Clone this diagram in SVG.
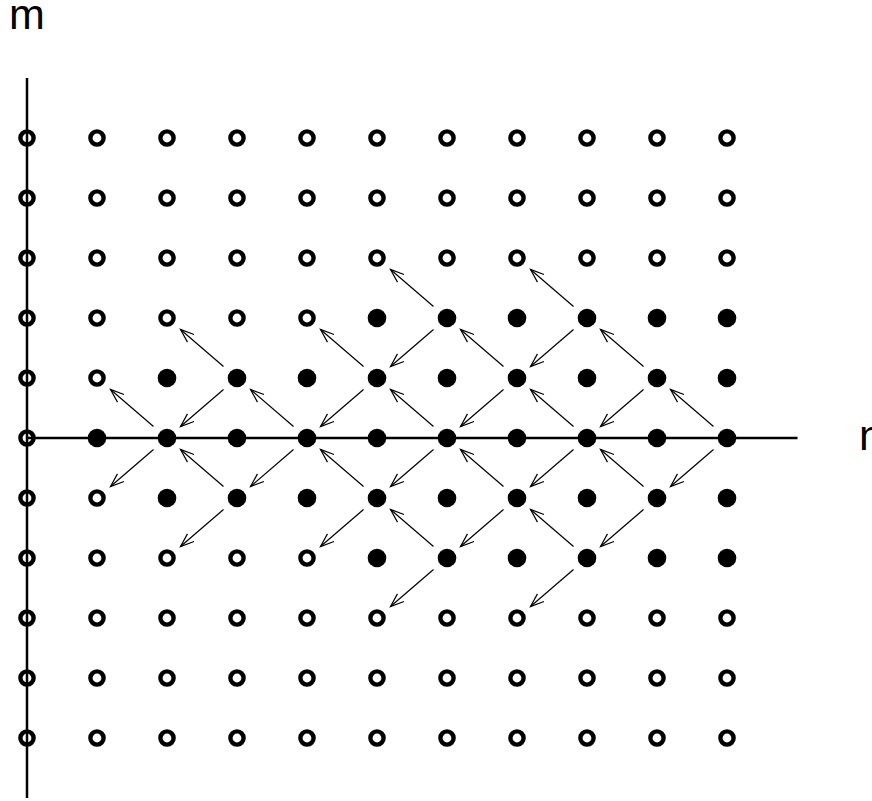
<svg xmlns="http://www.w3.org/2000/svg" width="872" height="801" viewBox="0 0 872 801">
<style>
.o{fill:none;stroke:#000;stroke-width:4.4}
.f{fill:#000}
.ax{stroke:#000;stroke-width:2.5;fill:none}
.ar{stroke:#000;stroke-width:1.2;fill:none;marker-end:url(#ah)}
.lb{font-family:"Liberation Sans",Arial,sans-serif;font-size:43px;fill:#000}
</style>
<defs>
<marker id="ah" markerUnits="userSpaceOnUse" markerWidth="20" markerHeight="20" refX="0" refY="0" orient="auto" overflow="visible">
<path d="M-13.5,-5 L0,0 L-13.5,5" fill="none" stroke="#000" stroke-width="1.2"/>
</marker>
</defs>
<rect width="872" height="801" fill="#fff"/>
<g id="nodes">
<!-- m=5 y=138 -->
<g id="n0_5"><circle class="o" cx="27" cy="138" r="6.6"/></g>
<g id="n1_5"><circle class="o" cx="97" cy="138" r="6.6"/></g>
<g id="n2_5"><circle class="o" cx="167" cy="138" r="6.6"/></g>
<g id="n3_5"><circle class="o" cx="237" cy="138" r="6.6"/></g>
<g id="n4_5"><circle class="o" cx="307" cy="138" r="6.6"/></g>
<g id="n5_5"><circle class="o" cx="377" cy="138" r="6.6"/></g>
<g id="n6_5"><circle class="o" cx="447" cy="138" r="6.6"/></g>
<g id="n7_5"><circle class="o" cx="517" cy="138" r="6.6"/></g>
<g id="n8_5"><circle class="o" cx="587" cy="138" r="6.6"/></g>
<g id="n9_5"><circle class="o" cx="657" cy="138" r="6.6"/></g>
<g id="n10_5"><circle class="o" cx="727" cy="138" r="6.6"/></g>
<!-- m=4 y=198 -->
<g id="n0_4"><circle class="o" cx="27" cy="198" r="6.6"/></g>
<g id="n1_4"><circle class="o" cx="97" cy="198" r="6.6"/></g>
<g id="n2_4"><circle class="o" cx="167" cy="198" r="6.6"/></g>
<g id="n3_4"><circle class="o" cx="237" cy="198" r="6.6"/></g>
<g id="n4_4"><circle class="o" cx="307" cy="198" r="6.6"/></g>
<g id="n5_4"><circle class="o" cx="377" cy="198" r="6.6"/></g>
<g id="n6_4"><circle class="o" cx="447" cy="198" r="6.6"/></g>
<g id="n7_4"><circle class="o" cx="517" cy="198" r="6.6"/></g>
<g id="n8_4"><circle class="o" cx="587" cy="198" r="6.6"/></g>
<g id="n9_4"><circle class="o" cx="657" cy="198" r="6.6"/></g>
<g id="n10_4"><circle class="o" cx="727" cy="198" r="6.6"/></g>
<!-- m=3 y=258 -->
<g id="n0_3"><circle class="o" cx="27" cy="258" r="6.6"/></g>
<g id="n1_3"><circle class="o" cx="97" cy="258" r="6.6"/></g>
<g id="n2_3"><circle class="o" cx="167" cy="258" r="6.6"/></g>
<g id="n3_3"><circle class="o" cx="237" cy="258" r="6.6"/></g>
<g id="n4_3"><circle class="o" cx="307" cy="258" r="6.6"/></g>
<g id="n5_3"><circle class="o" cx="377" cy="258" r="6.6"/></g>
<g id="n6_3"><circle class="o" cx="447" cy="258" r="6.6"/></g>
<g id="n7_3"><circle class="o" cx="517" cy="258" r="6.6"/></g>
<g id="n8_3"><circle class="o" cx="587" cy="258" r="6.6"/></g>
<g id="n9_3"><circle class="o" cx="657" cy="258" r="6.6"/></g>
<g id="n10_3"><circle class="o" cx="727" cy="258" r="6.6"/></g>
<!-- m=2 y=318 -->
<g id="n0_2"><circle class="o" cx="27" cy="318" r="6.6"/></g>
<g id="n1_2"><circle class="o" cx="97" cy="318" r="6.6"/></g>
<g id="n2_2"><circle class="o" cx="167" cy="318" r="6.6"/></g>
<g id="n3_2"><circle class="o" cx="237" cy="318" r="6.6"/></g>
<g id="n4_2"><circle class="o" cx="307" cy="318" r="6.6"/></g>
<g id="n5_2"><circle class="f" cx="377" cy="318" r="9.3"/></g>
<g id="n6_2"><circle class="f" cx="447" cy="318" r="9.3"/></g>
<g id="n7_2"><circle class="f" cx="517" cy="318" r="9.3"/></g>
<g id="n8_2"><circle class="f" cx="587" cy="318" r="9.3"/></g>
<g id="n9_2"><circle class="f" cx="657" cy="318" r="9.3"/></g>
<g id="n10_2"><circle class="f" cx="727" cy="318" r="9.3"/></g>
<!-- m=1 y=378 -->
<g id="n0_1"><circle class="o" cx="27" cy="378" r="6.6"/></g>
<g id="n1_1"><circle class="o" cx="97" cy="378" r="6.6"/></g>
<g id="n2_1"><circle class="f" cx="167" cy="378" r="9.3"/></g>
<g id="n3_1"><circle class="f" cx="237" cy="378" r="9.3"/></g>
<g id="n4_1"><circle class="f" cx="307" cy="378" r="9.3"/></g>
<g id="n5_1"><circle class="f" cx="377" cy="378" r="9.3"/></g>
<g id="n6_1"><circle class="f" cx="447" cy="378" r="9.3"/></g>
<g id="n7_1"><circle class="f" cx="517" cy="378" r="9.3"/></g>
<g id="n8_1"><circle class="f" cx="587" cy="378" r="9.3"/></g>
<g id="n9_1"><circle class="f" cx="657" cy="378" r="9.3"/></g>
<g id="n10_1"><circle class="f" cx="727" cy="378" r="9.3"/></g>
<!-- m=0 y=438 -->
<g id="n0_0"><circle class="o" cx="27" cy="438" r="6.6"/></g>
<g id="n1_0"><circle class="f" cx="97" cy="438" r="9.3"/></g>
<g id="n2_0"><circle class="f" cx="167" cy="438" r="9.3"/></g>
<g id="n3_0"><circle class="f" cx="237" cy="438" r="9.3"/></g>
<g id="n4_0"><circle class="f" cx="307" cy="438" r="9.3"/></g>
<g id="n5_0"><circle class="f" cx="377" cy="438" r="9.3"/></g>
<g id="n6_0"><circle class="f" cx="447" cy="438" r="9.3"/></g>
<g id="n7_0"><circle class="f" cx="517" cy="438" r="9.3"/></g>
<g id="n8_0"><circle class="f" cx="587" cy="438" r="9.3"/></g>
<g id="n9_0"><circle class="f" cx="657" cy="438" r="9.3"/></g>
<g id="n10_0"><circle class="f" cx="727" cy="438" r="9.3"/></g>
<!-- m=-1 y=498 -->
<g id="n0_m1"><circle class="o" cx="27" cy="498" r="6.6"/></g>
<g id="n1_m1"><circle class="o" cx="97" cy="498" r="6.6"/></g>
<g id="n2_m1"><circle class="f" cx="167" cy="498" r="9.3"/></g>
<g id="n3_m1"><circle class="f" cx="237" cy="498" r="9.3"/></g>
<g id="n4_m1"><circle class="f" cx="307" cy="498" r="9.3"/></g>
<g id="n5_m1"><circle class="f" cx="377" cy="498" r="9.3"/></g>
<g id="n6_m1"><circle class="f" cx="447" cy="498" r="9.3"/></g>
<g id="n7_m1"><circle class="f" cx="517" cy="498" r="9.3"/></g>
<g id="n8_m1"><circle class="f" cx="587" cy="498" r="9.3"/></g>
<g id="n9_m1"><circle class="f" cx="657" cy="498" r="9.3"/></g>
<g id="n10_m1"><circle class="f" cx="727" cy="498" r="9.3"/></g>
<!-- m=-2 y=558 -->
<g id="n0_m2"><circle class="o" cx="27" cy="558" r="6.6"/></g>
<g id="n1_m2"><circle class="o" cx="97" cy="558" r="6.6"/></g>
<g id="n2_m2"><circle class="o" cx="167" cy="558" r="6.6"/></g>
<g id="n3_m2"><circle class="o" cx="237" cy="558" r="6.6"/></g>
<g id="n4_m2"><circle class="o" cx="307" cy="558" r="6.6"/></g>
<g id="n5_m2"><circle class="f" cx="377" cy="558" r="9.3"/></g>
<g id="n6_m2"><circle class="f" cx="447" cy="558" r="9.3"/></g>
<g id="n7_m2"><circle class="f" cx="517" cy="558" r="9.3"/></g>
<g id="n8_m2"><circle class="f" cx="587" cy="558" r="9.3"/></g>
<g id="n9_m2"><circle class="f" cx="657" cy="558" r="9.3"/></g>
<g id="n10_m2"><circle class="f" cx="727" cy="558" r="9.3"/></g>
<!-- m=-3 y=618 -->
<g id="n0_m3"><circle class="o" cx="27" cy="618" r="6.6"/></g>
<g id="n1_m3"><circle class="o" cx="97" cy="618" r="6.6"/></g>
<g id="n2_m3"><circle class="o" cx="167" cy="618" r="6.6"/></g>
<g id="n3_m3"><circle class="o" cx="237" cy="618" r="6.6"/></g>
<g id="n4_m3"><circle class="o" cx="307" cy="618" r="6.6"/></g>
<g id="n5_m3"><circle class="o" cx="377" cy="618" r="6.6"/></g>
<g id="n6_m3"><circle class="o" cx="447" cy="618" r="6.6"/></g>
<g id="n7_m3"><circle class="o" cx="517" cy="618" r="6.6"/></g>
<g id="n8_m3"><circle class="o" cx="587" cy="618" r="6.6"/></g>
<g id="n9_m3"><circle class="o" cx="657" cy="618" r="6.6"/></g>
<g id="n10_m3"><circle class="o" cx="727" cy="618" r="6.6"/></g>
<!-- m=-4 y=678 -->
<g id="n0_m4"><circle class="o" cx="27" cy="678" r="6.6"/></g>
<g id="n1_m4"><circle class="o" cx="97" cy="678" r="6.6"/></g>
<g id="n2_m4"><circle class="o" cx="167" cy="678" r="6.6"/></g>
<g id="n3_m4"><circle class="o" cx="237" cy="678" r="6.6"/></g>
<g id="n4_m4"><circle class="o" cx="307" cy="678" r="6.6"/></g>
<g id="n5_m4"><circle class="o" cx="377" cy="678" r="6.6"/></g>
<g id="n6_m4"><circle class="o" cx="447" cy="678" r="6.6"/></g>
<g id="n7_m4"><circle class="o" cx="517" cy="678" r="6.6"/></g>
<g id="n8_m4"><circle class="o" cx="587" cy="678" r="6.6"/></g>
<g id="n9_m4"><circle class="o" cx="657" cy="678" r="6.6"/></g>
<g id="n10_m4"><circle class="o" cx="727" cy="678" r="6.6"/></g>
<!-- m=-5 y=738 -->
<g id="n0_m5"><circle class="o" cx="27" cy="738" r="6.6"/></g>
<g id="n1_m5"><circle class="o" cx="97" cy="738" r="6.6"/></g>
<g id="n2_m5"><circle class="o" cx="167" cy="738" r="6.6"/></g>
<g id="n3_m5"><circle class="o" cx="237" cy="738" r="6.6"/></g>
<g id="n4_m5"><circle class="o" cx="307" cy="738" r="6.6"/></g>
<g id="n5_m5"><circle class="o" cx="377" cy="738" r="6.6"/></g>
<g id="n6_m5"><circle class="o" cx="447" cy="738" r="6.6"/></g>
<g id="n7_m5"><circle class="o" cx="517" cy="738" r="6.6"/></g>
<g id="n8_m5"><circle class="o" cx="587" cy="738" r="6.6"/></g>
<g id="n9_m5"><circle class="o" cx="657" cy="738" r="6.6"/></g>
<g id="n10_m5"><circle class="o" cx="727" cy="738" r="6.6"/></g>
</g>
<g id="axes">
<line class="ax" x1="27" y1="78" x2="27" y2="798"/>
<line class="ax" x1="27" y1="438" x2="797.5" y2="438"/>
<text class="lb" x="9" y="29">m</text>
<text class="lb" x="859" y="450">n</text>
</g>
<g id="connectors">
<!-- m=0 up -->
<line class="ar" x1="153.5" y1="426.5" x2="110.5" y2="389.5"/>
<line class="ar" x1="293.5" y1="426.5" x2="250.5" y2="389.5"/>
<line class="ar" x1="433.5" y1="426.5" x2="390.5" y2="389.5"/>
<line class="ar" x1="573.5" y1="426.5" x2="530.5" y2="389.5"/>
<line class="ar" x1="713.5" y1="426.5" x2="670.5" y2="389.5"/>
<!-- m=1 down -->
<line class="ar" x1="223.5" y1="389.5" x2="180.5" y2="426.5"/>
<line class="ar" x1="363.5" y1="389.5" x2="320.5" y2="426.5"/>
<line class="ar" x1="503.5" y1="389.5" x2="460.5" y2="426.5"/>
<line class="ar" x1="643.5" y1="389.5" x2="600.5" y2="426.5"/>
<!-- m=1 up -->
<line class="ar" x1="223.5" y1="366.5" x2="180.5" y2="329.5"/>
<line class="ar" x1="363.5" y1="366.5" x2="320.5" y2="329.5"/>
<line class="ar" x1="503.5" y1="366.5" x2="460.5" y2="329.5"/>
<line class="ar" x1="643.5" y1="366.5" x2="600.5" y2="329.5"/>
<!-- m=2 down -->
<line class="ar" x1="433.5" y1="329.5" x2="390.5" y2="366.5"/>
<line class="ar" x1="573.5" y1="329.5" x2="530.5" y2="366.5"/>
<!-- m=2 up -->
<line class="ar" x1="433.5" y1="306.5" x2="390.5" y2="269.5"/>
<line class="ar" x1="573.5" y1="306.5" x2="530.5" y2="269.5"/>
<!-- m=0 down -->
<line class="ar" x1="153.5" y1="449.5" x2="110.5" y2="486.5"/>
<line class="ar" x1="293.5" y1="449.5" x2="250.5" y2="486.5"/>
<line class="ar" x1="433.5" y1="449.5" x2="390.5" y2="486.5"/>
<line class="ar" x1="573.5" y1="449.5" x2="530.5" y2="486.5"/>
<line class="ar" x1="713.5" y1="449.5" x2="670.5" y2="486.5"/>
<!-- m=-1 up -->
<line class="ar" x1="223.5" y1="486.5" x2="180.5" y2="449.5"/>
<line class="ar" x1="363.5" y1="486.5" x2="320.5" y2="449.5"/>
<line class="ar" x1="503.5" y1="486.5" x2="460.5" y2="449.5"/>
<line class="ar" x1="643.5" y1="486.5" x2="600.5" y2="449.5"/>
<!-- m=-1 down -->
<line class="ar" x1="223.5" y1="509.5" x2="180.5" y2="546.5"/>
<line class="ar" x1="363.5" y1="509.5" x2="320.5" y2="546.5"/>
<line class="ar" x1="503.5" y1="509.5" x2="460.5" y2="546.5"/>
<line class="ar" x1="643.5" y1="509.5" x2="600.5" y2="546.5"/>
<!-- m=-2 up -->
<line class="ar" x1="433.5" y1="546.5" x2="390.5" y2="509.5"/>
<line class="ar" x1="573.5" y1="546.5" x2="530.5" y2="509.5"/>
<!-- m=-2 down -->
<line class="ar" x1="433.5" y1="569.5" x2="390.5" y2="606.5"/>
<line class="ar" x1="573.5" y1="569.5" x2="530.5" y2="606.5"/>
</g>
</svg>
